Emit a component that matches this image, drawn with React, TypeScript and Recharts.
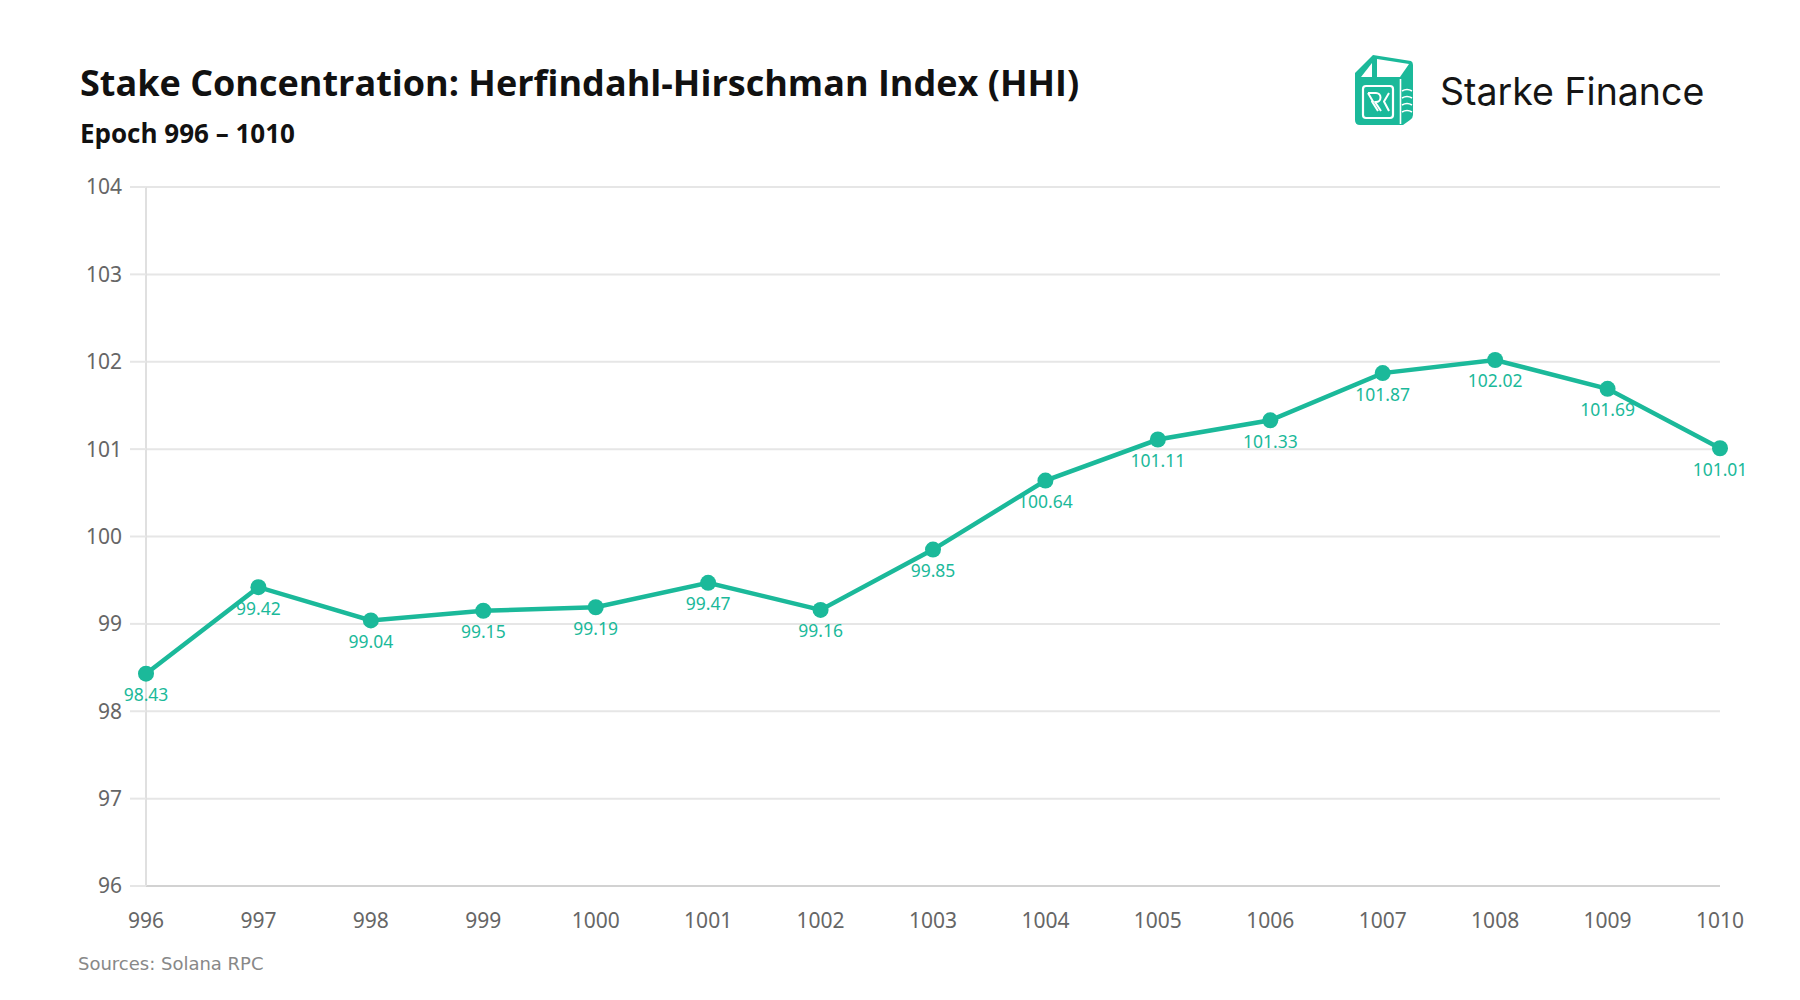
import React from "react";
import {
  LineChart,
  Line,
  XAxis,
  YAxis,
  CartesianGrid,
  LabelList,
} from "recharts";

const epochs = [
  "996", "997", "998", "999", "1000", "1001", "1002", "1003",
  "1004", "1005", "1006", "1007", "1008", "1009", "1010",
];
const hhiValues = [
  98.43, 99.42, 99.04, 99.15, 99.19, 99.47, 99.16, 99.85,
  100.64, 101.11, 101.33, 101.87, 102.02, 101.69, 101.01,
];
const yTicks = [96, 97, 98, 99, 100, 101, 102, 103, 104];

const TEAL = "#1bb99a";
const FONT = "'Noto Sans', 'Open Sans', sans-serif";
const TITLE_FONT = "'Open Sans', 'Noto Sans', sans-serif";

const data = epochs.map((epoch, i) => ({ epoch, hhi: hhiValues[i] }));

// rough redraw of the Starke Finance mark
const Logo = () => (
  <g transform="translate(1355,55)">
    <path d="M0,18 L18,0 L56,6 Q58,7 58,10 L58,60 Q58,63 55,65 L48,70 L5,70 Q0,70 0,65 Z" fill={TEAL} />
    <polygon points="6,22 17,8 17,22" fill="#fff" />
    <polygon points="22,4 54,9 45,22 22,22" fill="#fff" />
    <rect x={8} y={31} width={30} height={32} rx={3} fill="none" stroke="#fff" strokeWidth={2.2} />
    <path
      d="M13,38 h8 a4.5,4.5 0 0 1 0,9 h-1 l6,9 M13,38 l5,8.5 l-1,0 l6,9.5 M34,38 l-5,8.5 l5,9.5"
      fill="none"
      stroke="#fff"
      strokeWidth={2}
      strokeLinejoin="round"
    />
    <line x1={45.5} y1={24} x2={45.5} y2={69} stroke="#fff" strokeWidth={1.6} />
    <path d="M47,36 Q52,33 57,36 M47,43 Q52,40 57,43 M47,50 Q52,47 57,50 M47,57 Q52,54 57,57" fill="none" stroke="#fff" strokeWidth={1.6} />
  </g>
);

export default function App() {
  return (
    <div style={{ position: "absolute", left: 0, top: 0, width: 1800, height: 1000, background: "#fff" }}>
      <LineChart
        width={1800}
        height={1000}
        data={data}
        margin={{ top: 187, right: 80, bottom: 74, left: 86 }}
      >
        <CartesianGrid vertical={false} stroke="#e6e6e6" strokeWidth={2} />
        <XAxis
          dataKey="epoch"
          height={40}
          tickSize={0}
          tickMargin={27}
          axisLine={{ stroke: "#d2d2d2", strokeWidth: 2 }}
          tickLine={false}
          tick={{ fill: "#666", fontSize: 21, fontFamily: FONT }}
          interval={0}
        />
        <YAxis
          width={60}
          domain={[96, 104]}
          ticks={yTicks}
          interval={0}
          tickSize={16}
          tickMargin={8}
          axisLine={{ stroke: "#e0e0e0", strokeWidth: 2 }}
          tickLine={{ stroke: "#e6e6e6", strokeWidth: 2 }}
          tick={{ fill: "#666", fontSize: 21, fontFamily: FONT }}
        />
        <Line
          type="linear"
          dataKey="hhi"
          stroke={TEAL}
          strokeWidth={4.5}
          dot={{ r: 8, fill: TEAL, stroke: TEAL, strokeWidth: 0 }}
          activeDot={false}
          isAnimationActive={false}
        >
          <LabelList
            dataKey="hhi"
            position="bottom"
            offset={15}
            fill={TEAL}
            fontSize={17.5}
            fontFamily={FONT}
            formatter={(v: any) => Number(v).toFixed(2)}
          />
        </Line>
      </LineChart>
      <svg
        width={1800}
        height={1000}
        style={{ position: "absolute", left: 0, top: 0, pointerEvents: "none" }}
      >
        <text x={80} y={96} fontFamily={TITLE_FONT} fontWeight={700} fontSize={36} fill="#111">
          Stake Concentration: Herfindahl-Hirschman Index (HHI)
        </text>
        <text x={80} y={143} fontFamily={TITLE_FONT} fontWeight={700} fontSize={26} fill="#111">
          Epoch 996 – 1010
        </text>
        <text x={78} y={970} fontFamily="'DejaVu Sans', sans-serif" fontSize={18} fill="#888">
          Sources: Solana RPC
        </text>
        <Logo />
        <text x={1440} y={105} fontFamily="Inter, sans-serif" fontSize={37.5} fill="#151515">
          Starke Finance
        </text>
      </svg>
    </div>
  );
}
